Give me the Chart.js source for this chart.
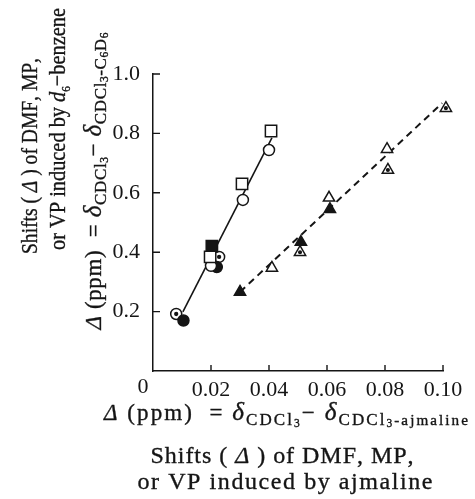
<!DOCTYPE html>
<html>
<head>
<meta charset="utf-8">
<script src="https://cdn.jsdelivr.net/npm/chart.js@4.4.1/dist/chart.umd.min.js"></script>
<style>
html, body { margin: 0; padding: 0; background: #fff; }
#wrap { width: 475px; height: 499px; }
</style>
</head>
<body>
<div id="wrap"><canvas id="chart"></canvas></div>
<script>
'use strict';

// axis ticks
var xTicks = [0, 0.02, 0.04, 0.06, 0.08, 0.10];
var yTicks = [0, 0.2, 0.4, 0.6, 0.8, 1.0];

// x = shift induced by ajmaline, y = shift induced by d6-benzene (ppm)
var openSquareX = [0.0197, 0.0307, 0.0407];
var openSquareY = [0.384, 0.630, 0.808];
var fillSquareX = [0.0203];
var fillSquareY = [0.420];
var openCircleX = [0.0200, 0.0310, 0.0400];
var openCircleY = [0.354, 0.576, 0.744];
var fillCircleX = [0.0105, 0.0220];
var fillCircleY = [0.170, 0.350];
var dotCircleX = [0.0080, 0.0228];
var dotCircleY = [0.192, 0.384];

var openTriX = [0.0410, 0.0607, 0.0807];
var openTriY = [0.347, 0.583, 0.747];
var fillTriX = [0.0300, 0.0510, 0.0610];
var fillTriY = [0.266, 0.434, 0.545];
var dotTriX = [0.0507, 0.0810, 0.1010];
var dotTriY = [0.400, 0.677, 0.885];

// fitted lines (end points)
var solidLineX = [0.0103, 0.0410];
var solidLineY = [0.199, 0.785];
var dashLineX = [0.0300, 0.0997];
var dashLineY = [0.266, 0.902];

// axis titles (k = size factor, dy = shift down in em, it = italic)
var xTitleA = [
    {t: 'Δ', it: 1}, {t: ' (ppm)  = '},
    {t: 'δ', it: 1, k: 1.1}, {t: 'CDCl', k: 0.74, dy: 0.2}, {t: '3', k: 0.5, dy: 0.3},
    {t: '− '},
    {t: 'δ', it: 1, k: 1.1}, {t: 'CDCl', k: 0.74, dy: 0.2}, {t: '3', k: 0.5, dy: 0.3},
    {t: '-ajmaline', k: 0.66, dy: 0.2}
];
var xTitleB = [{t: 'Shifts ( '}, {t: 'Δ', it: 1}, {t: ' ) of DMF, MP,'}];
var xTitleC = [{t: 'or VP induced by ajmaline'}];

var yTitleA = [{t: 'Shifts ( '}, {t: 'Δ', it: 1}, {t: ' ) of DMF, MP,'}];
var yTitleB = [{t: 'or VP induced by '}, {t: 'd', it: 1}, {t: '6', k: 0.55, dy: 0.2}, {t: '−benzene'}];
var yTitleC = [
    {t: 'Δ', it: 1}, {t: ' (ppm)  = '},
    {t: 'δ', it: 1, k: 1.1}, {t: 'CDCl', k: 0.74, dy: 0.2}, {t: '3', k: 0.5, dy: 0.3},
    {t: '− '},
    {t: 'δ', it: 1, k: 1.1}, {t: 'CDCl', k: 0.74, dy: 0.2}, {t: '3', k: 0.5, dy: 0.3},
    {t: '-C', k: 0.74, dy: 0.2}, {t: '6', k: 0.5, dy: 0.3},
    {t: 'D', k: 0.74, dy: 0.2}, {t: '6', k: 0.5, dy: 0.3}
];

var FONT = '"Liberation Serif", "DejaVu Serif", serif';
var INK = '#151515';

function pts(xs, ys) {
    return xs.map(function (x, i) { return {x: x, y: ys[i]}; });
}

function marker(label, xs, ys, style, r, filled, order) {
    return {
        label: label,
        data: pts(xs, ys),
        pointStyle: style,
        pointRadius: r,
        pointBorderWidth: 1.5,
        pointBorderColor: INK,
        pointBackgroundColor: filled ? INK : '#fff',
        showLine: false,
        clip: false,
        order: order
    };
}

// draws one title line, spread or squeezed to the given width
function drawRich(ctx, segs, base, cx, cy, width, rotate) {
    var chars = [];
    var natural = 0;
    segs.forEach(function (s) {
        var size = base * (s.k || 1);
        var font = (s.it ? 'italic ' : '') + size + 'px ' + FONT;
        ctx.font = font;
        for (var i = 0; i < s.t.length; i++) {
            var w = ctx.measureText(s.t[i]).width;
            chars.push({ch: s.t[i], font: font, w: w, dy: (s.dy || 0) * base});
            natural += w;
        }
    });
    var extra = 0, squeeze = 1, span = width;
    if (natural > width) {
        squeeze = width / natural;
        span = natural;
    } else if (chars.length > 1) {
        extra = (width - natural) / (chars.length - 1);
    }
    ctx.save();
    ctx.translate(cx, cy);
    if (rotate) ctx.rotate(-Math.PI / 2);
    ctx.scale(squeeze, 1);
    ctx.fillStyle = INK;
    ctx.strokeStyle = INK;
    ctx.lineWidth = 0.35;
    ctx.textBaseline = 'alphabetic';
    ctx.textAlign = 'left';
    var x = -span / 2;
    chars.forEach(function (c) {
        ctx.font = c.font;
        ctx.fillText(c.ch, x, c.dy);
        ctx.strokeText(c.ch, x, c.dy);
        x += c.w + extra;
    });
    ctx.restore();
}

var decorPlugin = {
    id: 'decor',
    afterDraw: function (chart) {
        var ctx = chart.ctx;
        var xs = chart.scales.x, ys = chart.scales.y;
        var area = chart.chartArea;
        ctx.save();
        ctx.strokeStyle = INK;
        ctx.lineWidth = 1.4;
        ctx.beginPath();
        xTicks.forEach(function (v) {
            if (v === 0) return;
            var px = xs.getPixelForValue(v);
            ctx.moveTo(px, area.bottom);
            ctx.lineTo(px, area.bottom - 6);
        });
        yTicks.forEach(function (v) {
            if (v === 0) return;
            var py = ys.getPixelForValue(v);
            ctx.moveTo(area.left, py);
            ctx.lineTo(area.left + 7, py);
        });
        ctx.stroke();

        // shared origin label
        ctx.fillStyle = INK;
        ctx.font = '22px ' + FONT;
        ctx.textAlign = 'center';
        ctx.textBaseline = 'middle';
        ctx.fillText('0', area.left - 10, area.bottom + 16);
        ctx.restore();

        drawRich(ctx, xTitleA, 23, 286, 420, 364, false);
        drawRich(ctx, xTitleB, 24, 282, 463, 263, false);
        drawRich(ctx, xTitleC, 24, 285, 489, 295, false);

        drawRich(ctx, yTitleA, 24, 37, 156, 196, true);
        drawRich(ctx, yTitleB, 24, 65, 129, 242, true);
        drawRich(ctx, yTitleC, 23, 101, 181, 297, true);
    }
};

var ctx = document.getElementById('chart');
var chart = new Chart(ctx, {
    type: 'scatter',
    data: {
        datasets: [
            {
                label: 'fit 1',
                data: pts(solidLineX, solidLineY),
                showLine: true,
                borderColor: INK,
                borderWidth: 1.6,
                pointRadius: 0,
                clip: false,
                order: 10
            },
            {
                label: 'fit 2',
                data: pts(dashLineX, dashLineY),
                showLine: true,
                borderColor: INK,
                borderWidth: 2,
                borderDash: [7, 5],
                pointRadius: 0,
                clip: false,
                order: 10
            },
            marker('open square', openSquareX, openSquareY, 'rect', 8, false, 2),
            marker('filled square', fillSquareX, fillSquareY, 'rect', 8, true, 2),
            marker('open circle', openCircleX, openCircleY, 'circle', 5.5, false, 2),
            marker('filled circle', fillCircleX, fillCircleY, 'circle', 5.5, true, 2),
            marker('dot circle', dotCircleX, dotCircleY, 'circle', 5.5, false, 2),
            marker('dot circle c', dotCircleX, dotCircleY, 'circle', 1.4, true, 1),
            marker('open triangle', openTriX, openTriY, 'triangle', 6.5, false, 2),
            marker('filled triangle', fillTriX, fillTriY, 'triangle', 6.5, true, 2),
            marker('dot triangle', dotTriX, dotTriY, 'triangle', 6.5, false, 2),
            marker('dot triangle c', dotTriX, dotTriY, 'circle', 1.3, true, 1)
        ]
    },
    options: {
        responsive: true,
        maintainAspectRatio: false,
        animation: false,
        layout: {padding: {left: 0, top: 74, right: 32, bottom: 98}},
        plugins: {
            legend: {display: false},
            tooltip: {enabled: false}
        },
        scales: {
            x: {
                type: 'linear',
                min: 0,
                max: 0.10,
                afterBuildTicks: function (scale) {
                    scale.ticks = xTicks.map(function (v) { return {value: v}; });
                },
                afterFit: function (scale) { scale.height = 30; },
                ticks: {
                    autoSkip: false,
                    maxRotation: 0,
                    padding: -2,
                    color: INK,
                    font: {family: FONT, size: 22},
                    callback: function (v) { return v === 0 ? '' : v.toFixed(2); }
                },
                grid: {display: false},
                border: {display: true, color: INK, width: 1.5}
            },
            y: {
                type: 'linear',
                min: 0,
                max: 1.0,
                afterBuildTicks: function (scale) {
                    scale.ticks = yTicks.map(function (v) { return {value: v}; });
                },
                afterFit: function (scale) { scale.width = 153; },
                ticks: {
                    autoSkip: false,
                    padding: 5,
                    color: INK,
                    font: {family: FONT, size: 22},
                    callback: function (v) { return v === 0 ? '' : v.toFixed(1); }
                },
                grid: {display: false},
                border: {display: true, color: INK, width: 1.5}
            }
        }
    },
    plugins: [decorPlugin]
});
</script>
</body>
</html>
